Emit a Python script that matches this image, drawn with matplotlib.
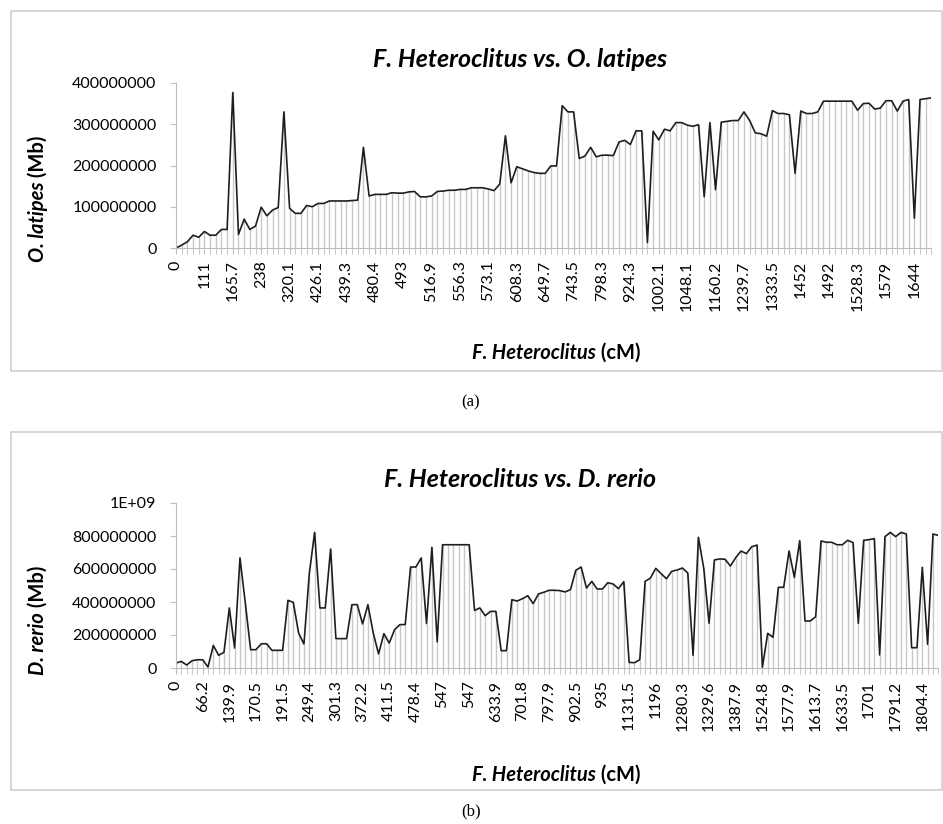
import matplotlib
matplotlib.use('Agg')
from matplotlib import pyplot as plt
from matplotlib.patches import Rectangle
from matplotlib.transforms import IdentityTransform

plt.rcParams['font.family'] = ['Lato', 'DejaVu Sans']

# panel (a): O. latipes position (Mb) for each F. heteroclitus marker
ol_values = [0, 7, 15, 31, 26, 40, 31, 31, 45, 45,
             377, 33, 70, 45, 53, 99, 78, 92, 98, 330,
             96, 84, 84, 103, 100, 108, 108, 114, 114, 114,
             114, 115, 116, 244, 126, 130, 130, 130, 134, 133,
             133, 136, 137, 124, 124, 126, 137, 138, 140, 140,
             142, 142, 146, 146, 146, 143, 139, 155, 272, 158,
             197, 192, 187, 183, 181, 181, 199, 199, 345, 330,
             330, 217, 223, 244, 221, 225, 225, 224, 257, 261,
             251, 284, 284, 13, 283, 262, 288, 284, 304, 304,
             298, 295, 299, 124, 304, 141, 305, 307, 309, 309,
             330, 309, 279, 277, 271, 333, 326, 326, 323, 181,
             332, 326, 326, 330, 356, 356, 356, 356, 356, 356,
             334, 350, 351, 337, 339, 357, 357, 332, 356, 360,
             72, 360, 362, 364]
ol_labels = ['0', '111', '165.7', '238', '320.1', '426.1', '439.3', '480.4',
             '493', '516.9', '556.3', '573.1', '608.3', '649.7', '743.5',
             '798.3', '924.3', '1002.1', '1048.1', '1160.2', '1239.7',
             '1333.5', '1452', '1492', '1528.3', '1579', '1644']
ol_yticks = [0, 100000000, 200000000, 300000000, 400000000]
ol_yticklabels = ['0', '100000000', '200000000', '300000000', '400000000']

# panel (b): D. rerio position (Mb)
dr_values = [30, 40, 18, 44, 50, 50, 6, 137, 77, 95,
             364, 121, 667, 394, 111, 111, 147, 147, 107, 107,
             107, 410, 398, 212, 145, 570, 822, 364, 364, 721,
             178, 178, 178, 384, 384, 267, 384, 212, 85, 208,
             151, 232, 263, 263, 612, 612, 667, 269, 731, 158,
             747, 747, 747, 747, 747, 747, 349, 364, 317, 343,
             343, 105, 105, 414, 406, 420, 438, 390, 449, 459,
             471, 471, 469, 461, 475, 592, 612, 485, 525, 479,
             479, 517, 509, 481, 523, 34, 32, 50, 525, 545,
             604, 572, 541, 586, 594, 606, 576, 77, 792, 604,
             271, 655, 661, 659, 618, 669, 709, 693, 735, 745,
             4, 210, 186, 489, 489, 709, 549, 772, 285, 285,
             311, 770, 762, 762, 747, 747, 774, 760, 271, 774,
             778, 784, 79, 796, 822, 796, 822, 812, 123, 123,
             610, 143, 812, 804]
dr_labels = ['0', '66.2', '139.9', '170.5', '191.5', '249.4', '301.3', '372.2',
             '411.5', '478.4', '547', '547', '633.9', '701.8', '797.9', '902.5',
             '935', '1131.5', '1196', '1280.3', '1329.6', '1387.9', '1524.8',
             '1577.9', '1613.7', '1633.5', '1701', '1791.2', '1804.4']
dr_yticks = [0, 200000000, 400000000, 600000000, 800000000, 1000000000]
dr_yticklabels = ['0', '200000000', '400000000', '600000000', '800000000', '1E+09']

W, H = 943, 824
fig = plt.figure(figsize=(W / 100, H / 100), dpi=100)
renderer = fig.canvas.get_renderer()
px = IdentityTransform()


def mixed_text(xc, yc, parts, size, rotation=0):
    # bold text made of pieces with different styles, centred on (xc, yc) in image pixels
    objs = []
    for s, style in parts:
        t = fig.text(0, 0, s, fontsize=size, fontweight='bold', fontstyle=style,
                     rotation=rotation, rotation_mode='anchor', ha='left',
                     va='center', transform=px)
        objs.append(t)
    lens = []
    for t in objs:
        bb = t.get_window_extent(renderer)
        lens.append(bb.height if rotation else bb.width)
    pos = -sum(lens) / 2
    for t, L in zip(objs, lens):
        if rotation:
            t.set_position((xc, H - yc + pos))
        else:
            t.set_position((xc + pos, H - yc))
        pos += L


def panel(frame, ax_box, values, scale, labels, yticks, yticklabels, title, ylab, centers):
    x0, y0, x1, y1 = frame
    fig.patches.append(Rectangle((x0 / W, 1 - y1 / H), (x1 - x0) / W, (y1 - y0) / H,
                                 transform=fig.transFigure, fill=False,
                                 edgecolor='#d0d0d0', linewidth=1.2))
    left, top, right, bottom = ax_box
    ax = fig.add_axes([left / W, 1 - bottom / H, (right - left) / W, (bottom - top) / H])
    y = [v * scale for v in values]
    n = len(y)
    xs = list(range(n))
    ax.vlines(xs, 0, y, color='#c8c8c8', linewidth=1.0, zorder=1)
    ax.plot(xs, y, color='#1e1e1e', linewidth=1.2, zorder=2)
    ax.set_xlim(0, n - 1)
    ax.set_ylim(yticks[0], yticks[-1])
    ax.set_xticks(list(range(0, n, 5))[:len(labels)])
    ax.set_xticklabels(labels, rotation=90, fontsize=11.5)
    ax.set_xticks(xs, minor=True)
    ax.set_yticks(yticks)
    ax.set_yticklabels(yticklabels, fontsize=11.5)
    ax.tick_params(axis='x', which='both', length=4, color='#bdbdbd', pad=5)
    ax.tick_params(axis='y', length=4, color='#bdbdbd', pad=10)
    for s in ['top', 'right']:
        ax.spines[s].set_visible(False)
    for s in ['left', 'bottom']:
        ax.spines[s].set_color('#bdbdbd')
    tx, ty, xlx, xly, ylx, yly = centers
    fig.text(tx / W, 1 - ty / H, title, fontsize=18, fontweight='bold',
             fontstyle='italic', ha='center', va='baseline')
    mixed_text(xlx, xly, [('F. Heteroclitus', 'italic'), (' (cM)', 'normal')], 14.5)
    mixed_text(ylx, yly, [(ylab, 'italic'), (' (Mb)', 'normal')], 14.5, rotation=90)
    return ax


panel((11, 11, 942, 371), (176, 83, 931.4, 248), ol_values, 1e6, ol_labels,
      ol_yticks, ol_yticklabels, 'F. Heteroclitus vs. O. latipes', 'O. latipes',
      (520, 67, 556, 353, 38, 199))
panel((11, 432, 942, 790), (176, 503, 938.3, 668), dr_values, 1e6, dr_labels,
      dr_yticks, dr_yticklabels, 'F. Heteroclitus vs. D. rerio', 'D. rerio',
      (520, 487, 556, 775, 38, 620))

fig.text(471 / W, 1 - 402 / H, '(a)', family='Liberation Serif', fontsize=12,
         ha='center', va='center')
fig.text(471 / W, 1 - 811 / H, '(b)', family='Liberation Serif', fontsize=12,
         ha='center', va='center')

fig.savefig('out.png', dpi=100)
